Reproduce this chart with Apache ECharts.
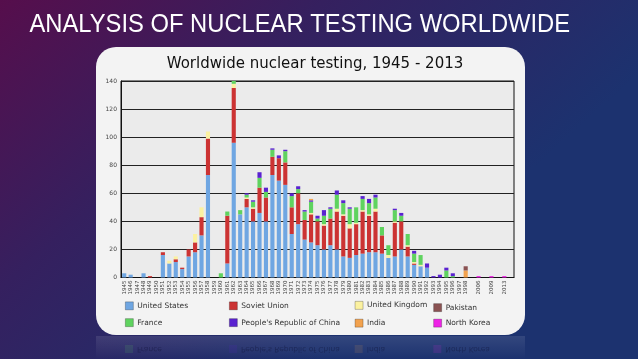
<!DOCTYPE html>
<html><head><meta charset="utf-8">
<script src="https://cdn.jsdelivr.net/npm/echarts@6/dist/echarts.min.js"></script>
<style>html,body{margin:0;padding:0;background:#2a2060;}#c{width:638px;height:359px;}</style>
</head><body><div id="c"></div>
<script>
// Year labels (1945-1998 consecutive, then the three later years)
const years = ['1945','1946','1947','1948','1949','1950','1951','1952','1953','1954',
 '1955','1956','1957','1958','1959','1960','1961','1962','1963','1964',
 '1965','1966','1967','1968','1969','1970','1971','1972','1973','1974',
 '1975','1976','1977','1978','1979','1980','1981','1982','1983','1984',
 '1985','1986','1987','1988','1989','1990','1991','1992','1993','1994',
 '1995','1996','1997','1998','2006','2009','2013'];
// Axis slots: a blank slot follows 1998, 2006, 2009 and 2013
const categories = years.slice(0,54).concat([' ','2006','  ','2009','   ','2013','    ']);

const unitedStates = [3,2,0,3,0,0,16,10,11,6, 15,18,30,73,0,0,10,96,45,50, 40,46,40,73,69,66,31,38,27,25, 23,20,23,20,15,14,16,17,18,18, 17,14,15,20,15,9,8,7,0,0, 0,0,0,0, 0,0,0];
const sovietUnion  = [0,0,0,0,1,0,2,0,2,1, 5,7,13,26,0,0,34,39,0,6, 9,18,17,13,16,16,19,22,14,20, 17,17,19,27,29,21,22,30,26,29, 13,0,24,20,7,1,0,0,0,0, 0,0,0,0, 0,0,0];
const unitedKingdom= [0,0,0,0,0,0,0,2,2,0, 0,6,7,5,0,0,0,3,0,1, 1,0,0,0,0,0,0,0,0,1, 0,1,0,2,1,3,1,1,1,2, 0,2,1,0,1,1,1,0,0,0, 0,0,0,0, 0,0,0];
const france       = [0,0,0,0,0,0,0,0,0,0, 0,0,0,0,0,3,3,2,3,2, 4,7,4,5,0,8,8,3,6,8, 2,6,7,10,8,11,11,8,8,8, 6,7,8,4,8,6,7,0,0,0, 5,1,0,0, 0,0,0];
const china        = [0,0,0,0,0,0,0,0,0,0, 0,0,0,0,0,0,0,0,0,1, 1,4,3,1,2,1,2,2,1,1, 2,4,1,3,2,1,0,2,3,2, 0,0,1,2,0,2,0,3,1,2, 2,2,0,0, 0,0,0];
const india        = [0,0,0,0,0,0,0,0,0,0, 0,0,0,0,0,0,0,0,0,0, 0,0,0,0,0,0,0,0,0,1, 0,0,0,0,0,0,0,0,0,0, 0,0,0,0,0,0,0,0,0,0, 0,0,0,5, 0,0,0];
const pakistan     = [0,0,0,0,0,0,0,0,0,0, 0,0,0,0,0,0,0,0,0,0, 0,0,0,0,0,0,0,0,0,0, 0,0,0,0,0,0,0,0,0,0, 0,0,0,0,0,0,0,0,0,0, 0,0,0,3, 0,0,0];
const northKorea   = [0,0,0,0,0,0,0,0,0,0, 0,0,0,0,0,0,0,0,0,0, 0,0,0,0,0,0,0,0,0,0, 0,0,0,0,0,0,0,0,0,0, 0,0,0,0,0,0,0,0,0,0, 0,0,0,0, 1,1,1];

const seriesDefs = [
  ['United States', unitedStates, '#6fa6e2'],
  ['Soviet Union', sovietUnion, '#cc3333'],
  ['United Kingdom', unitedKingdom, '#fbf1a0'],
  ['France', france, '#5fd35f'],
  ["People's Republic of China", china, '#5a22d0'],
  ['India', india, '#f2a24e'],
  ['Pakistan', pakistan, '#8a5252'],
  ['North Korea', northKorea, '#ee22e6']
];
function toSlots(arr){
  return categories.map(c => { const i = years.indexOf(c); return i < 0 ? null : (arr[i] || null); });
}

const legendPos = {
  'United States':[125,301.5], 'Soviet Union':[229,301.5], 'United Kingdom':[354.7,301], 'Pakistan':[433.3,303.3],
  'France':[125,318.3], "People's Republic of China":[229,318.3], 'India':[354.7,318.8], 'North Korea':[433.3,318.8]
};
const legends = seriesDefs.map(d => ({
  data:[d[0]], left:legendPos[d[0]][0], top:legendPos[d[0]][1], padding:0,
  itemWidth:8, itemHeight:8, icon:'rect', selectedMode:false,
  itemStyle:{borderColor:'rgba(0,0,0,0.35)', borderWidth:0.7},
  textStyle:{fontFamily:'DejaVu Sans', fontSize:7.5, color:'#333', padding:[0,0,0,-1]}
}));

const reflNames = ['France',"People's Republic of China",'India','North Korea'];
const reflection = [];
reflNames.forEach((n,i) => {
  const d = seriesDefs.find(s => s[0] === n);
  const p = legendPos[n];
  reflection.push({type:'rect', z:-1, shape:{x:p[0], y:345, width:8, height:8}, style:{fill:d[2], opacity:0.13}});
  reflection.push({type:'text', z:-1, x:p[0]+12, y:349, scaleY:-1,
    style:{text:n, fill:'rgba(10,10,40,0.35)', font:'7.5px "DejaVu Sans"', textVerticalAlign:'middle'}});
});

const chart = echarts.init(document.getElementById('c'));
chart.setOption({
  animation:false,
  graphic:[
    {type:'rect', z:-3, shape:{x:0,y:0,width:638,height:359},
     style:{fill:{type:'linear',x:0,y:0,x2:0.5,y2:1,colorStops:[
       {offset:0,color:'#560e4c'},{offset:0.45,color:'#35205f'},{offset:1,color:'#1c326f'}]}}},
    {type:'rect', z:-2, shape:{x:96,y:336,width:429,height:23},
     style:{fill:{type:'linear',x:0,y:0,x2:0,y2:1,colorStops:[
       {offset:0,color:'rgba(255,255,255,0.10)'},{offset:1,color:'rgba(255,255,255,0)'}]}}},
    ...reflection,
    {type:'rect', z:-1, shape:{x:96,y:47,width:429,height:288,r:20}, style:{fill:'#f3f3f3'}},
    {type:'text', z:5, x:29.5, y:25, scaleX:0.95,
     style:{text:'ANALYSIS OF NUCLEAR TESTING WORLDWIDE', fill:'#ffffff',
       font:'25px "Liberation Sans"', textAlign:'left', textVerticalAlign:'middle'}},
    {type:'text', z:5, x:315, y:64,
     style:{text:'Worldwide nuclear testing, 1945 - 2013', fill:'#111',
       font:'15px "DejaVu Sans"', textAlign:'center', textVerticalAlign:'middle'}}
  ],
  legend: legends,
  grid:{left:121, top:81, width:393, height:196.5, show:true, backgroundColor:'#ebebeb',
        borderColor:'#111', borderWidth:1, containLabel:false},
  xAxis:{type:'category', data:categories,
    axisLine:{show:true, lineStyle:{color:'#111', width:1}}, axisTick:{show:false},
    axisLabel:{interval:0, rotate:90, fontSize:5.5, fontFamily:'DejaVu Sans', color:'#444', margin:3}},
  yAxis:{type:'value', min:0, max:140, interval:20,
    axisLine:{show:true, lineStyle:{color:'#111'}}, axisTick:{show:false},
    splitLine:{lineStyle:{color:'#222', width:1}},
    axisLabel:{fontSize:6, fontFamily:'DejaVu Sans', color:'#444', margin:4}},
  series: seriesDefs.map(([name, arr, color]) => ({
    name, type:'bar', stack:'total', barWidth:'64%', itemStyle:{color}, data: toSlots(arr)
  }))
});
</script></body></html>
